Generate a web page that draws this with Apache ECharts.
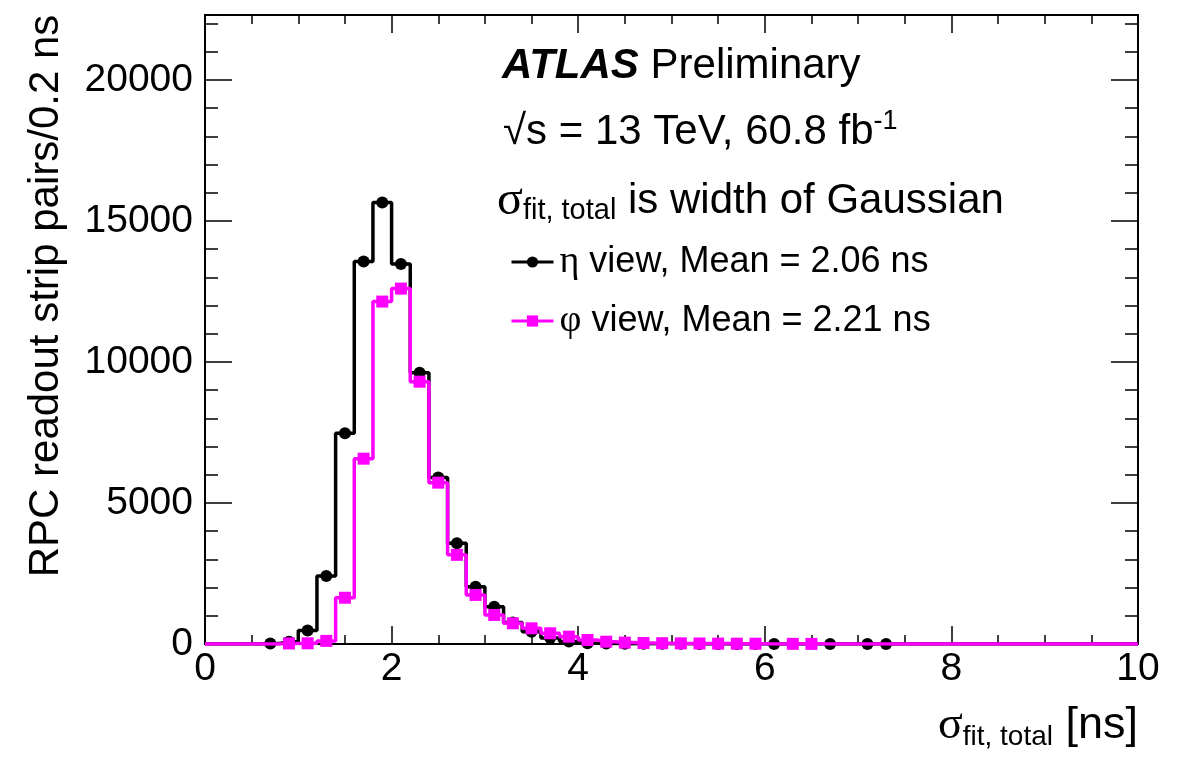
<!DOCTYPE html>
<html>
<head>
<meta charset="utf-8">
<script src="https://cdn.jsdelivr.net/npm/echarts@6/dist/echarts.min.js"></script>
<style>
  html, body { margin: 0; padding: 0; background: #fff; }
  #chart { width: 1187px; height: 757px; }
</style>
</head>
<body>
<div id="chart"></div>
<script>
// histogram binning (0.2 ns bins from 0 to 10 ns)
var binWidth = 0.2;
var xMin = 0;
var xMax = 10;
var yMax = 22300;

// eta view counts per bin
var etaCounts = [0, 0, 0, 20, 80, 480, 2410, 7470, 13560, 15650,
  13470, 9620, 5900, 3570, 2030, 1320, 760, 436, 210, 90,
  30, 15, 10, 8, 6, 5, 4, 3, 3, 2,
  2, 0, 0, 1, 0, 1, 1, 0, 0, 0,
  0, 0, 0, 0, 0, 0, 0, 0, 0, 0];

// phi view counts per bin
var phiCounts = [0, 0, 0, 0, 20, 25, 110, 1640, 6570, 12140,
  12600, 9300, 5720, 3160, 1740, 1030, 734, 556, 380, 260,
  142, 82, 50, 35, 28, 22, 18, 14, 12, 10,
  0, 6, 5, 0, 0, 0, 0, 0, 0, 0,
  0, 0, 0, 0, 0, 0, 0, 0, 0, 0];

var etaName = 'η view, Mean = 2.06 ns';
var phiName = 'φ view, Mean = 2.21 ns';

var sans = "'Liberation Sans', Arial, Helvetica, sans-serif";
var serif = "'Liberation Serif', 'Times New Roman', serif";

// bin centres + zero edges so the step line spans the full axis
function toSteps(counts, size) {
  var pts = [{ value: [xMin, 0], symbolSize: 0 }];
  counts.forEach(function (c, i) {
    pts.push({ value: [xMin + (i + 0.5) * binWidth, c], symbolSize: c > 0 ? size : 0 });
  });
  pts.push({ value: [xMax, 0], symbolSize: 0 });
  return pts;
}

function tickAxis(pos, interval, len, major, max) {
  return {
    type: 'value', position: pos, min: 0, max: max, interval: interval,
    axisLine: { show: major, onZero: false, lineStyle: { color: '#000', width: 2 } },
    axisTick: { show: true, inside: true, length: len, lineStyle: { color: '#000', width: 1.5 } },
    axisLabel: { show: false },
    splitLine: { show: false }
  };
}

var chart = echarts.init(document.getElementById('chart'));

var xMain = tickAxis('bottom', 2, 18, true, xMax);
xMain.axisLabel = { show: true, fontSize: 39, color: '#000', fontFamily: sans, margin: 6,
  showMinLabel: true, showMaxLabel: true };

var yMain = tickAxis('left', 5000, 27, true, yMax);
yMain.axisLabel = { show: true, fontSize: 39, color: '#000', fontFamily: sans, margin: 12,
  showMaxLabel: false, formatter: function (v) { return String(v); } };

var option = {
  animation: false,
  backgroundColor: '#fff',
  grid: { left: 205, top: 15, width: 933, height: 629, show: true, borderColor: '#000', borderWidth: 2 },
  xAxis: [
    xMain,
    tickAxis('bottom', 0.5, 9, false, xMax),
    tickAxis('top', 2, 18, true, xMax),
    tickAxis('top', 0.5, 9, false, xMax)
  ],
  yAxis: [
    yMain,
    tickAxis('left', 1000, 13, false, yMax),
    tickAxis('right', 5000, 27, true, yMax),
    tickAxis('right', 1000, 13, false, yMax)
  ],
  legend: {
    orient: 'vertical',
    left: 505,
    top: 238,
    itemWidth: 42,
    itemHeight: 14,
    itemGap: 21,
    data: [etaName, phiName],
    lineStyle: { width: 3 },
    formatter: function (name) { return '{g|' + name.charAt(0) + '}' + name.slice(1); },
    textStyle: {
      fontSize: 36, color: '#000', fontFamily: sans, padding: [0, 0, 0, 1],
      rich: { g: { fontSize: 38, fontFamily: serif, color: '#000' } }
    }
  },
  series: [
    {
      name: etaName, type: 'line', step: 'middle',
      data: toSteps(etaCounts, 12),
      symbol: 'circle', showSymbol: true, showAllSymbol: true,
      lineStyle: { color: '#000', width: 3.5 },
      itemStyle: { color: '#000' },
      z: 2
    },
    {
      name: phiName, type: 'line', step: 'middle',
      data: toSteps(phiCounts, 12),
      symbol: 'rect', showSymbol: true, showAllSymbol: true,
      lineStyle: { color: '#ff00ff', width: 3.5 },
      itemStyle: { color: '#ff00ff' },
      z: 3
    }
  ],
  graphic: [
    {
      type: 'text', x: 46, y: 296, rotation: Math.PI / 2,
      style: { text: 'RPC readout strip pairs/0.2 ns', font: '42px ' + sans, fill: '#000',
        textAlign: 'center', textVerticalAlign: 'middle' }
    },
    {
      type: 'text', x: 1138, y: 726,
      style: {
        text: '{s|σ}{sub|fit, total}{n| [ns]}', textAlign: 'right', textVerticalAlign: 'middle', fill: '#000',
        rich: {
          s: { fontSize: 46, fontFamily: serif, fill: '#000', lineHeight: 50 },
          sub: { fontSize: 28, fontFamily: sans, fill: '#000', verticalAlign: 'bottom', lineHeight: 26 },
          n: { fontSize: 45, fontFamily: sans, fill: '#000', lineHeight: 50 }
        }
      }
    },
    {
      type: 'text', x: 502, y: 66,
      style: {
        text: '{b|ATLAS}{n| Preliminary}', textVerticalAlign: 'middle', fill: '#000',
        rich: {
          b: { fontSize: 42, fontFamily: sans, fontWeight: 'bold', fontStyle: 'italic', fill: '#000' },
          n: { fontSize: 42, fontFamily: sans, fill: '#000' }
        }
      }
    },
    {
      type: 'text', x: 503, y: 132,
      style: {
        text: '{n|√s = 13 TeV, 60.8 fb}{sup|-1}', textVerticalAlign: 'middle', fill: '#000',
        rich: {
          n: { fontSize: 42, fontFamily: sans, fill: '#000', lineHeight: 48 },
          sup: { fontSize: 27, fontFamily: sans, fill: '#000', verticalAlign: 'top', lineHeight: 26 }
        }
      }
    },
    {
      type: 'text', x: 497, y: 201,
      style: {
        text: '{s|σ}{sub|fit, total}{n| is width of Gaussian}', textVerticalAlign: 'middle', fill: '#000',
        rich: {
          s: { fontSize: 48, fontFamily: serif, fill: '#000', lineHeight: 48 },
          sub: { fontSize: 29, fontFamily: sans, fill: '#000', verticalAlign: 'bottom', lineHeight: 24 },
          n: { fontSize: 42, fontFamily: sans, fill: '#000', lineHeight: 48 }
        }
      }
    }
  ]
};

chart.setOption(option);
</script>
</body>
</html>
